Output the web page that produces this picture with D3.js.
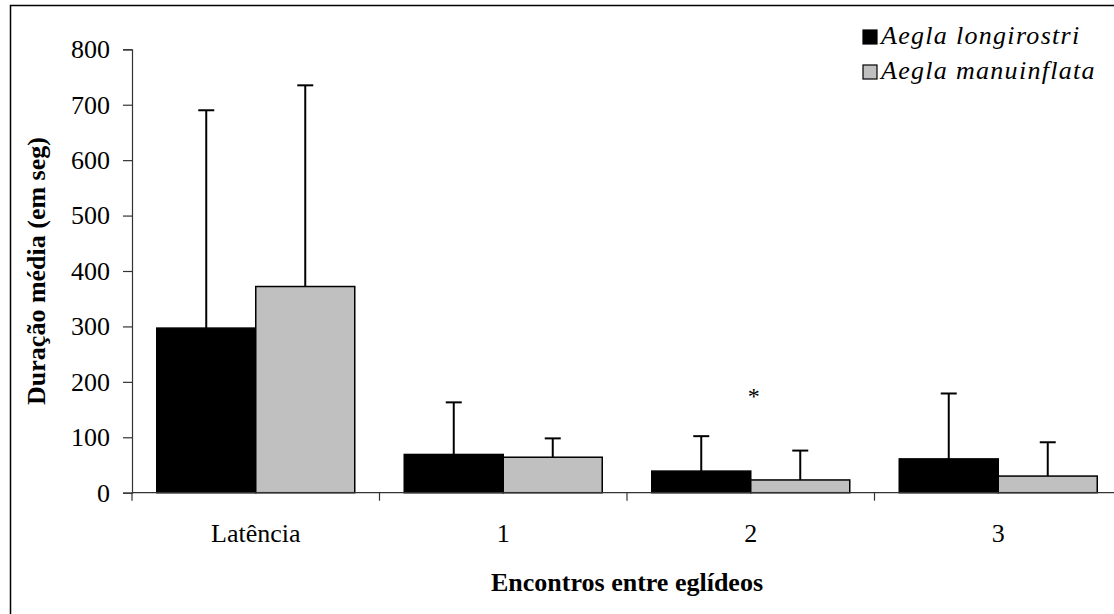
<!DOCTYPE html>
<html><head><meta charset="utf-8">
<script src="https://cdn.jsdelivr.net/npm/d3@7"></script>
<style>
html,body{margin:0;padding:0;background:#fff;}
svg{display:block;}
text{font-family:"Liberation Serif","Times New Roman",serif;fill:#000;}
</style></head>
<body>
<svg id="c" width="1114" height="614"></svg>
<script>
const categories = ["Latência", "1", "2", "3"];
const seriesNames = ["Aegla longirostri", "Aegla manuinflata"];
const longirostri = [297, 69, 39, 61];
const longirostriSD = [393, 94, 63, 118];
const manuinflata = [372, 64, 23, 30];
const manuinflataSD = [363, 34, 53, 61];
const yTicks = [0, 100, 200, 300, 400, 500, 600, 700, 800];
const colors = ["#000000", "#c0c0c0"];

const svg = d3.select("#c");
// outer frame (cropped at right/bottom)
svg.append("rect").attr("x", 10.5).attr("y", 5.5).attr("width", 1300).attr("height", 800)
  .attr("fill", "none").attr("stroke", "#000").attr("stroke-width", 1.5);

const pLeft = 132, pRight = 1122, pTop = 49.3, pBottom = 492.7;
const x = d3.scaleBand().domain(categories).range([pLeft, pRight]).paddingInner(0.2).paddingOuter(0.1);
const xs = d3.scaleBand().domain(seriesNames).range([0, x.bandwidth()]);
const y = d3.scaleLinear().domain([0, 800]).range([pBottom, pTop]);

// y axis
const ya = svg.append("g").attr("transform", `translate(${pLeft},0)`)
  .call(d3.axisLeft(y).tickValues(yTicks).tickSize(9).tickPadding(13).tickFormat(d3.format("d")));
ya.select(".domain").attr("stroke", "#333").attr("stroke-width", 1.2);
ya.selectAll(".tick line").attr("stroke", "#333").attr("stroke-width", 1.2);
ya.selectAll(".tick text").attr("font-size", 26).attr("font-family", "Liberation Serif");

const data = categories.map((c, i) => ({c, vals: [
  {s: seriesNames[0], v: longirostri[i], e: longirostriSD[i]},
  {s: seriesNames[1], v: manuinflata[i], e: manuinflataSD[i]}]}));

const g = svg.append("g");
const grp = g.selectAll("g.grp").data(data).enter().append("g")
  .attr("transform", d => `translate(${x(d.c)},0)`);
grp.selectAll("line.err").data(d => d.vals).enter().append("line")
  .attr("x1", d => xs(d.s) + xs.bandwidth()/2).attr("x2", d => xs(d.s) + xs.bandwidth()/2)
  .attr("y1", d => y(d.v)).attr("y2", d => y(d.v + d.e))
  .attr("stroke", "#000").attr("stroke-width", 2);
grp.selectAll("line.cap").data(d => d.vals).enter().append("line")
  .attr("x1", d => xs(d.s) + xs.bandwidth()/2 - 8).attr("x2", d => xs(d.s) + xs.bandwidth()/2 + 8)
  .attr("y1", d => y(d.v + d.e)).attr("y2", d => y(d.v + d.e))
  .attr("stroke", "#000").attr("stroke-width", 2);
grp.selectAll("rect").data(d => d.vals).enter().append("rect")
  .attr("x", d => xs(d.s)).attr("width", xs.bandwidth())
  .attr("y", d => y(d.v)).attr("height", d => y(0) - y(d.v))
  .attr("fill", (d, i) => colors[i]).attr("stroke", "#000").attr("stroke-width", 1.5);

// x axis
const xa = svg.append("g").attr("transform", `translate(0,${pBottom})`)
  .call(d3.axisBottom(x).tickSize(0).tickPadding(31));
xa.select(".domain").remove();
xa.selectAll(".tick text").attr("font-size", 26).attr("font-family", "Liberation Serif");
svg.append("line").attr("x1", pLeft).attr("x2", pRight).attr("y1", pBottom).attr("y2", pBottom)
  .attr("stroke", "#333").attr("stroke-width", 1.2);
const bounds = categories.map(c => x(c) - x.step() * x.paddingInner() / 2);
svg.selectAll("line.xt").data(bounds).enter().append("line")
  .attr("x1", d => d).attr("x2", d => d).attr("y1", pBottom).attr("y2", pBottom + 8)
  .attr("stroke", "#333").attr("stroke-width", 1.2);

// asterisk
svg.append("text").attr("x", x("2") + x.bandwidth()/2 + 3).attr("y", 404)
  .attr("text-anchor", "middle").attr("font-size", 24).text("*");

// axis titles
svg.append("text").attr("x", (pLeft + pRight) / 2).attr("y", 591).attr("text-anchor", "middle")
  .attr("font-size", 26).attr("font-weight", "bold").text("Encontros entre eglídeos");
svg.append("text").attr("transform", `translate(45,${(pTop + pBottom) / 2}) rotate(-90)`)
  .attr("text-anchor", "middle").attr("font-size", 26).attr("font-weight", "bold")
  .text("Duração média (em seg)");

// legend
const lg = svg.append("g");
seriesNames.forEach((s, i) => {
  const yy = 36 + i * 35;
  lg.append("rect").attr("x", 863).attr("y", yy - 6).attr("width", 14).attr("height", 14)
    .attr("fill", colors[i]).attr("stroke", "#000").attr("stroke-width", 1.2);
  lg.append("text").attr("x", 881).attr("y", yy + 8).attr("font-size", 26)
    .attr("font-style", "italic").attr("letter-spacing", 1.3).text(s);
});
</script>
</body></html>
